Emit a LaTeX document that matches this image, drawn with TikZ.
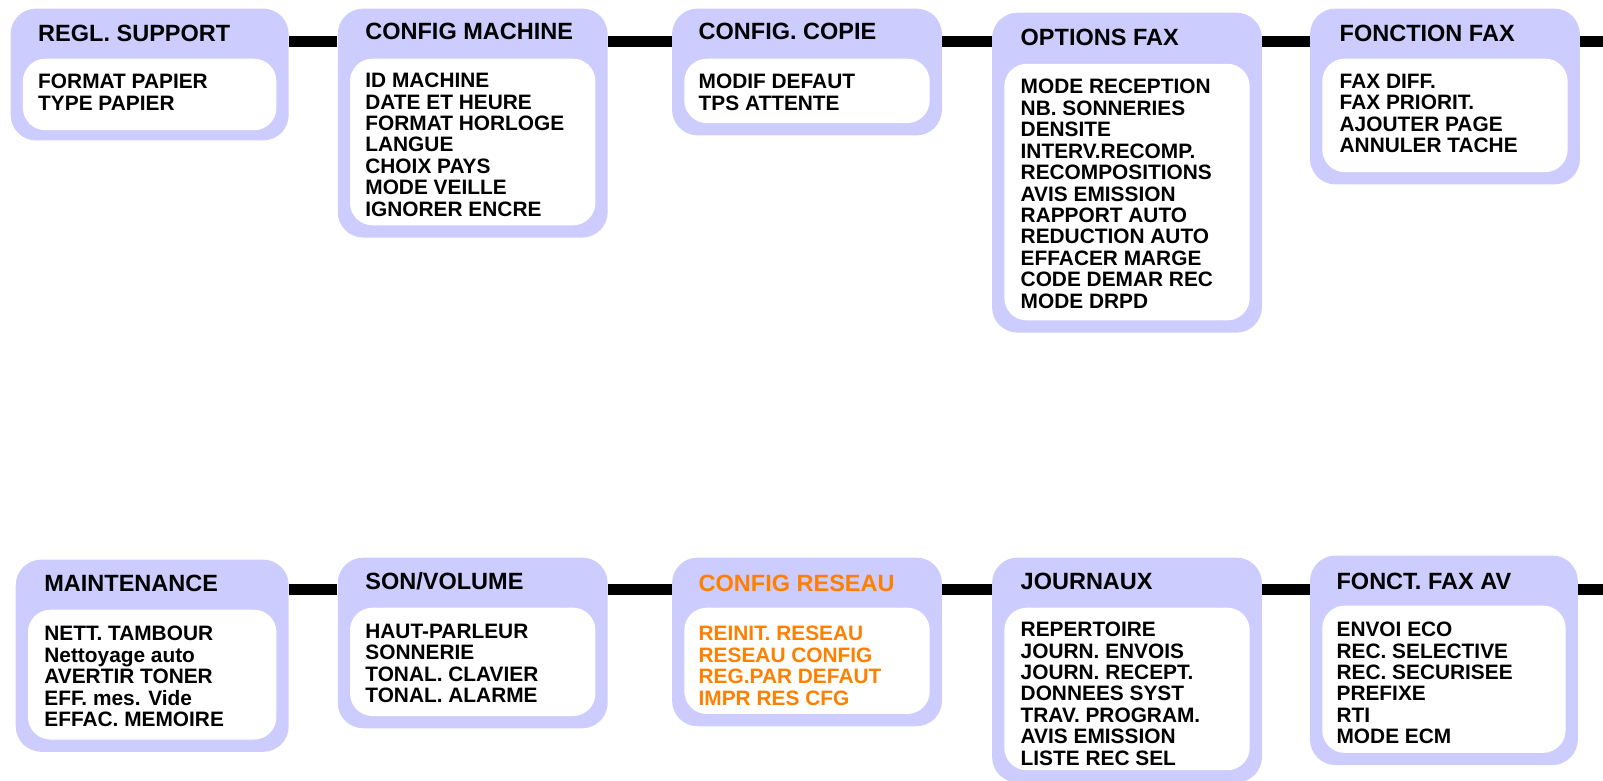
\documentclass[tikz,border=0pt]{standalone}
\usepackage{fontspec}
\setmainfont{Liberation Sans}
\definecolor{lavbg}{HTML}{CCCCFF}
\definecolor{netorange}{HTML}{FF8000}

\begin{document}
\begin{tikzpicture}[x=0.5pt, y=-0.5pt,
    menubox/.style={fill=lavbg, rounded corners=12.5pt, inner sep=0pt, anchor=north west},
    listbox/.style={fill=white, rounded corners=11pt, inner sep=0pt, anchor=north west},
    menutitle/.style={font=\fontsize{11.5pt}{13pt}\selectfont\bfseries, inner sep=0pt, anchor=base west},
    menuitems/.style={font=\fontsize{10.2pt}{10.5pt}\selectfont\bfseries, align=left, inner sep=0pt, anchor=north west},
    link/.style={line width=5.3pt}]
  \useasboundingbox (0,0) rectangle (1568,763);
  \coordinate (row1) at (0,41);
  \coordinate (row2) at (0,577);
  \coordinate (row1end) at (1568,41);
  \coordinate (row2end) at (1568,577);

  % top row
  \node[menubox, minimum width=136pt, minimum height=64.5pt] (regl) at (10,8) {};
  \node[listbox, minimum width=124pt, minimum height=35pt] (reglL) at (22,57) {};
  \node[menutitle] (reglT) at (37,41) {REGL. SUPPORT};
  \node[menuitems] (reglI) at (37,72) {FORMAT PAPIER\\TYPE PAPIER};

  \node[menubox, minimum width=132pt, minimum height=112pt] (machine) at (330,8) {};
  \node[listbox, minimum width=120pt, minimum height=81.5pt] (machineL) at (342,57) {};
  \node[menutitle] (machineT) at (357,39) {CONFIG MACHINE};
  \node[menuitems] (machineI) at (357,71) {ID MACHINE\\DATE ET HEURE\\FORMAT HORLOGE\\LANGUE\\CHOIX PAYS\\MODE VEILLE\\IGNORER ENCRE};

  \node[menubox, minimum width=132pt, minimum height=62pt] (copie) at (657,8) {};
  \node[listbox, minimum width=120pt, minimum height=31.5pt] (copieL) at (669,57) {};
  \node[menutitle] (copieT) at (683,39) {CONFIG. COPIE};
  \node[menuitems] (copieI) at (683,72) {MODIF DEFAUT\\TPS ATTENTE};

  \node[menubox, minimum width=132pt, minimum height=156.5pt] (optfax) at (970,12) {};
  \node[listbox, minimum width=120pt, minimum height=125.5pt] (optfaxL) at (982,62) {};
  \node[menutitle] (optfaxT) at (998,45) {OPTIONS FAX};
  \node[menuitems] (optfaxI) at (998,77) {MODE RECEPTION\\NB. SONNERIES\\DENSITE\\INTERV.RECOMP.\\RECOMPOSITIONS\\AVIS EMISSION\\RAPPORT AUTO\\REDUCTION AUTO\\EFFACER MARGE\\CODE DEMAR REC\\MODE DRPD};

  \node[menubox, minimum width=132pt, minimum height=86pt] (fonctfax) at (1281,8) {};
  \node[listbox, minimum width=120pt, minimum height=55.5pt] (fonctfaxL) at (1293,57) {};
  \node[menutitle] (fonctfaxT) at (1310,41) {FONCTION FAX};
  \node[menuitems] (fonctfaxI) at (1310,72) {FAX DIFF.\\FAX PRIORIT.\\AJOUTER PAGE\\ANNULER TACHE};

  \draw[link] (regl.east |- row1) -- (machine.west |- row1);
  \draw[link] (machine.east |- row1) -- (copie.west |- row1);
  \draw[link] (copie.east |- row1) -- (optfax.west |- row1);
  \draw[link] (optfax.east |- row1) -- (fonctfax.west |- row1);
  \draw[link] (fonctfax.east |- row1) -- (row1end);

  % bottom row
  \node[menubox, minimum width=133.5pt, minimum height=94pt] (maint) at (15,547) {};
  \node[listbox, minimum width=121.5pt, minimum height=63.5pt] (maintL) at (27,596) {};
  \node[menutitle] (maintT) at (43,579) {MAINTENANCE};
  \node[menuitems] (maintI) at (43,612) {NETT. TAMBOUR\\Nettoyage auto\\AVERTIR TONER\\EFF. mes. Vide\\EFFAC. MEMOIRE};

  \node[menubox, minimum width=132pt, minimum height=83.5pt] (sonvol) at (330,545) {};
  \node[listbox, minimum width=120pt, minimum height=53pt] (sonvolL) at (342,594) {};
  \node[menutitle] (sonvolT) at (357,577) {SON/VOLUME};
  \node[menuitems] (sonvolI) at (357,610) {HAUT-PARLEUR\\SONNERIE\\TONAL. CLAVIER\\TONAL. ALARME};

  \node[menubox, minimum width=132pt, minimum height=82.5pt] (reseau) at (657,545) {};
  \node[listbox, minimum width=120pt, minimum height=52pt] (reseauL) at (669,594) {};
  \node[menutitle, text=netorange] (reseauT) at (683,579) {CONFIG RESEAU};
  \node[menuitems, text=netorange] (reseauI) at (683,612) {REINIT. RESEAU\\RESEAU CONFIG\\REG.PAR DEFAUT\\IMPR RES CFG};

  \node[menubox, minimum width=132pt, minimum height=110pt] (journaux) at (970,545) {};
  \node[listbox, minimum width=120pt, minimum height=79.5pt] (journauxL) at (982,594) {};
  \node[menutitle] (journauxT) at (998,577) {JOURNAUX};
  \node[menuitems] (journauxI) at (998,608) {REPERTOIRE\\JOURN. ENVOIS\\JOURN. RECEPT.\\DONNEES SYST\\TRAV. PROGRAM.\\AVIS EMISSION\\LISTE REC SEL};

  \node[menubox, minimum width=131pt, minimum height=102.5pt] (faxav) at (1281,543) {};
  \node[listbox, minimum width=119pt, minimum height=72pt] (faxavL) at (1293,592) {};
  \node[menutitle] (faxavT) at (1307,577) {FONCT. FAX AV};
  \node[menuitems] (faxavI) at (1307,608) {ENVOI ECO\\REC. SELECTIVE\\REC. SECURISEE\\PREFIXE\\RTI\\MODE ECM};

  \draw[link] (maint.east |- row2) -- (sonvol.west |- row2);
  \draw[link] (sonvol.east |- row2) -- (reseau.west |- row2);
  \draw[link] (reseau.east |- row2) -- (journaux.west |- row2);
  \draw[link] (journaux.east |- row2) -- (faxav.west |- row2);
  \draw[link] (faxav.east |- row2) -- (row2end);
\end{tikzpicture}
\end{document}
